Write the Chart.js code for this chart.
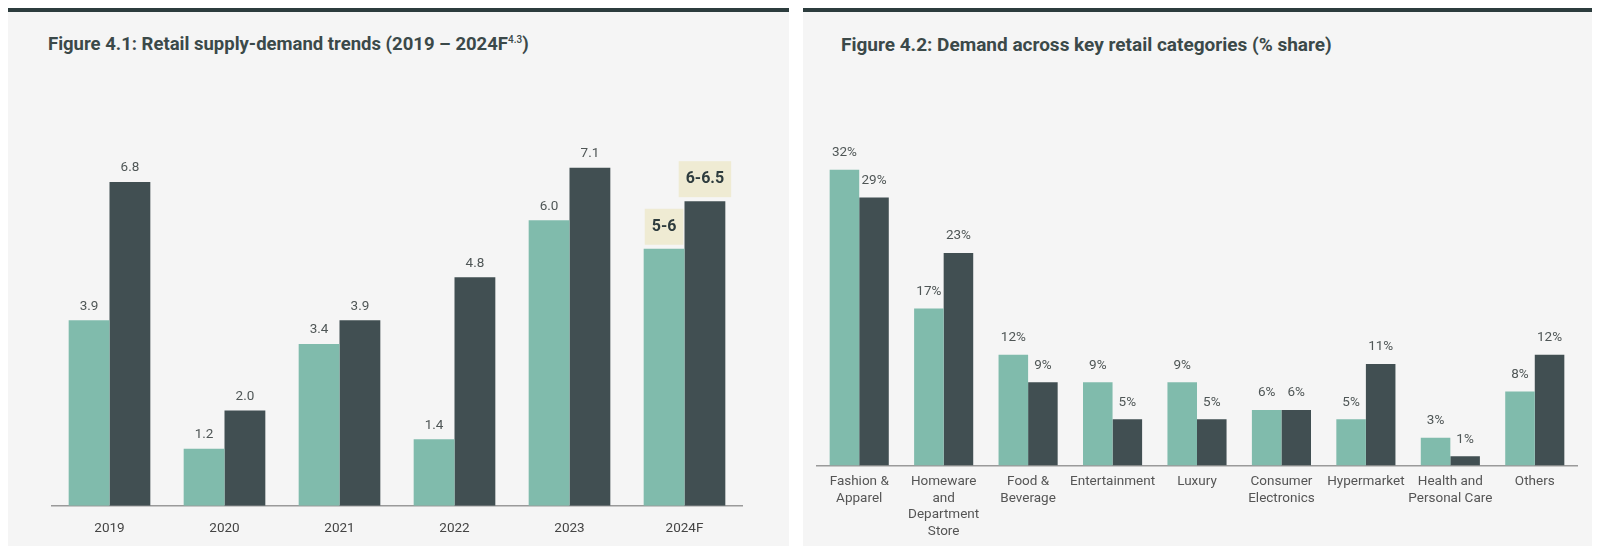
<!DOCTYPE html>
<html lang="en">
<head>
  <meta charset="UTF-8">
  <title>Retail supply-demand and category demand</title>
  <script src="https://cdn.jsdelivr.net/npm/chart.js"></script>
  <style>
    body { margin: 0; background: #ffffff; width: 1600px; height: 546px; position: relative; overflow: hidden; font-family: Roboto, "Open Sans", sans-serif; }
    .panel { position: absolute; top: 8px; height: 537px; background: #f5f5f5; border-top: 4px solid #2c3c3d; }
    .titulo { position: absolute; top: 33px; font-size: 18.5px; font-weight: 700; color: #3b4949; white-space: nowrap; }
    .titulo sup { font-size: 10px; font-weight: 500; }
    canvas { position: absolute; }
  </style>
</head>
<body>
  <!-- Painel esquerdo -->
  <div class="panel" style="left:8px; width:781px;"></div>
  <div class="titulo" style="left:48px;">Figure 4.1: Retail supply-demand trends (2019 – 2024F<sup>4.3</sup>)</div>
  <canvas id="grafico1" width="781" height="491" style="left:8px; top:63px;"></canvas>

  <!-- Painel direito -->
  <div class="panel" style="left:803px; width:789px;"></div>
  <div class="titulo" style="left:841px; font-size:19px;">Figure 4.2: Demand across key retail categories (% share)</div>
  <canvas id="grafico2" width="789" height="491" style="left:803px; top:59px;"></canvas>

  <script>
    // Figura 4.1
    const anos = ["2019", "2020", "2021", "2022", "2023", "2024F"];
    const oferta = [3.9, 1.2, 3.4, 1.4, 6.0, 5.4];
    const demanda = [6.8, 2.0, 3.9, 4.8, 7.1, 6.4];
    const rotulosOferta = ["3.9", "1.2", "3.4", "1.4", "6.0", "5-6"];
    const rotulosDemanda = ["6.8", "2.0", "3.9", "4.8", "7.1", "6-6.5"];
    const indicePrevisao = 5;

    // Figura 4.2
    const categorias = [
      ["Fashion &", "Apparel"],
      ["Homeware", "and", "Department", "Store"],
      ["Food &", "Beverage"],
      ["Entertainment"],
      ["Luxury"],
      ["Consumer", "Electronics"],
      ["Hypermarket"],
      ["Health and", "Personal Care"],
      ["Others"]
    ];
    const serieA = [32, 17, 12, 9, 9, 6, 5, 3, 8];
    const serieB = [29, 23, 9, 5, 5, 6, 11, 1, 12];

    const verde = "#80bbac";
    const escuro = "#414f52";

    // Rótulos acima das barras
    const rotulosPlugin = {
      id: "rotulos",
      afterDatasetsDraw(chart, args, opts) {
        const ctx = chart.ctx;
        chart.data.datasets.forEach((ds, i) => {
          const meta = chart.getDatasetMeta(i);
          meta.data.forEach((bar, j) => {
            const texto = ds.rotulos[j];
            ctx.save();
            ctx.textAlign = "center";
            ctx.textBaseline = "middle";
            if (opts.destaque === j) {
              ctx.font = "bold 16px Roboto";
              const w = ctx.measureText(texto).width + 14;
              const h = 36;
              ctx.fillStyle = "#efebd3";
              ctx.fillRect(bar.x - w / 2, bar.y - 4 - h, w, h);
              ctx.fillStyle = "#2e3c3e";
              ctx.fillText(texto, bar.x, bar.y - 4 - h / 2);
            } else {
              ctx.font = "13.5px Roboto";
              ctx.fillStyle = "#4f5656";
              ctx.fillText(texto, bar.x, bar.y - opts.offset);
            }
            ctx.restore();
          });
        });
      }
    };

    new Chart(document.getElementById("grafico1"), {
      type: "bar",
      data: {
        labels: anos,
        datasets: [
          { label: "Supply", data: oferta, rotulos: rotulosOferta, backgroundColor: verde },
          { label: "Demand", data: demanda, rotulos: rotulosDemanda, backgroundColor: escuro }
        ]
      },
      options: {
        responsive: false,
        animation: false,
        categoryPercentage: 0.71,
        barPercentage: 1,
        layout: { padding: { left: 44, right: 47, top: 62, bottom: 2 } },
        plugins: {
          legend: { display: false },
          tooltip: { enabled: false },
          rotulos: { offset: 14, destaque: indicePrevisao }
        },
        scales: {
          x: {
            grid: { display: false, drawTicks: false },
            border: { display: true, color: "#9a9a9a", width: 1.5 },
            ticks: { padding: 15, color: "#444", font: { family: "Roboto", size: 13.5 } }
          },
          y: { display: false, min: 0, max: 8 }
        }
      },
      plugins: [rotulosPlugin]
    });

    new Chart(document.getElementById("grafico2"), {
      type: "bar",
      data: {
        labels: categorias,
        datasets: [
          { label: "Series A", data: serieA, rotulos: serieA.map(v => v + "%"), backgroundColor: verde },
          { label: "Series B", data: serieB, rotulos: serieB.map(v => v + "%"), backgroundColor: escuro }
        ]
      },
      options: {
        responsive: false,
        animation: false,
        categoryPercentage: 0.70,
        barPercentage: 1,
        layout: { padding: { left: 14, right: 15, top: 83, bottom: 2 } },
        plugins: {
          legend: { display: false },
          tooltip: { enabled: false },
          rotulos: { offset: 17, destaque: -1 }
        },
        scales: {
          x: {
            grid: { display: false, drawTicks: false },
            border: { display: true, color: "#9a9a9a", width: 1.5 },
            ticks: { padding: 8, color: "#555", maxRotation: 0, autoSkip: false, font: { family: "Roboto", size: 13.5, lineHeight: 1.23 } }
          },
          y: { display: false, min: 0, max: 35 }
        }
      },
      plugins: [rotulosPlugin]
    });
  </script>
</body>
</html>
